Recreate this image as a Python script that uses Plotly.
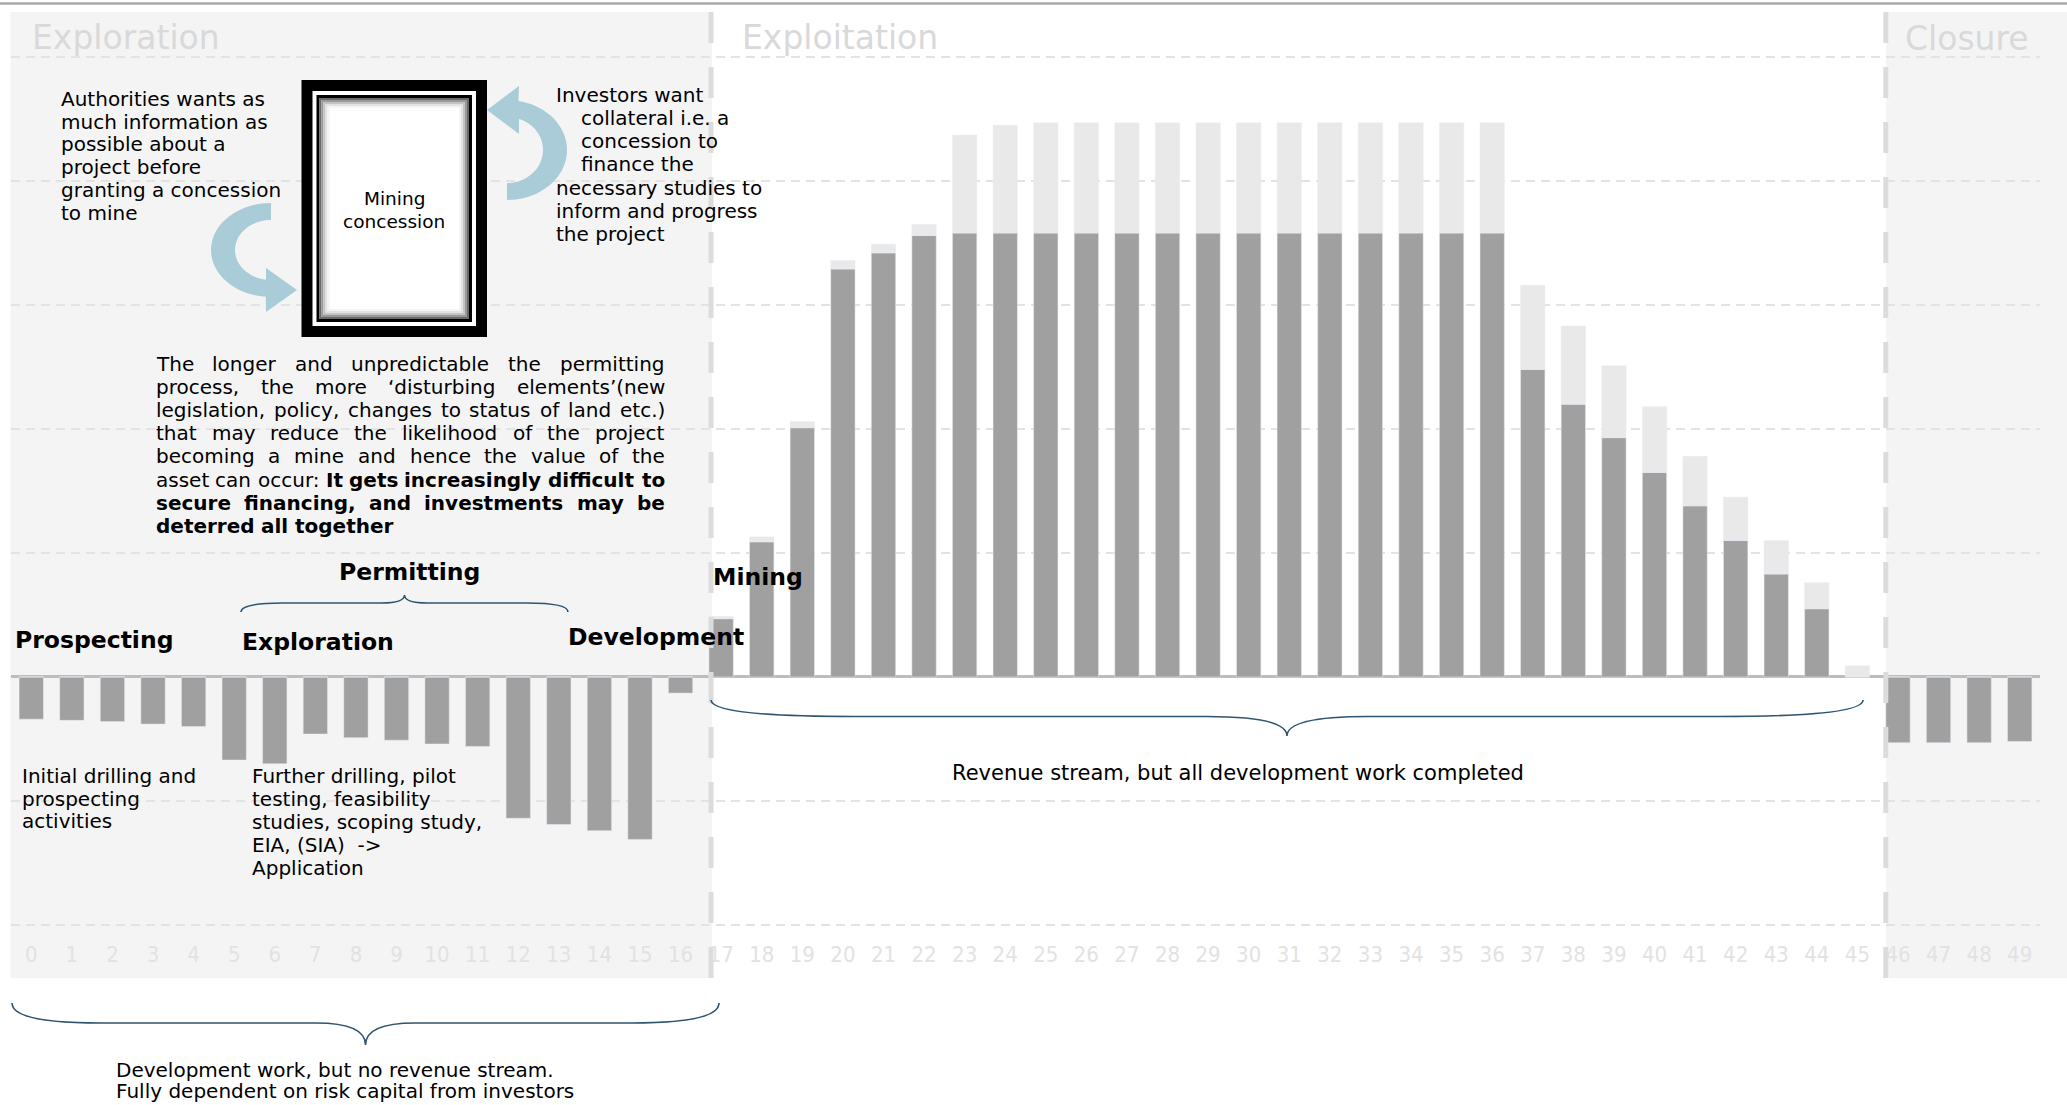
import plotly.graph_objects as go
import numpy as np

W, H = 2067, 1105

# ---------------- data ----------------
years = list(range(50))
tick_labels = [str(y) for y in years]

cash_flow = [-34, -35, -36, -38, -40, -67, -70, -46, -49, -51, -54, -56,
             -114, -119, -124, -131, -13,
             47, 109, 201, 329, 342, 356,
             358, 358, 358, 358, 358, 358, 358, 358, 358, 358, 358, 358, 358, 358,
             248, 220, 193, 165, 138, 110, 83, 55, 0,
             -53, -53, -53, -52]
upside = [0, 0, 0, 0, 0, 0, 0, 0, 0, 0, 0, 0, 0, 0, 0, 0, 0,
          2, 4, 5, 7, 7, 9, 79, 87,
          89, 89, 89, 89, 89, 89, 89, 89, 89, 89, 89, 89,
          68, 63, 58, 53, 40, 35, 27, 21, 9,
          0, 0, 0, 0]

phase_titles = ["Exploration", "Exploitation", "Closure"]
phase_dividers = [16.75, 45.7]

stage_labels = ["Prospecting", "Exploration", "Permitting", "Development", "Mining"]

authorities_lines = ["Authorities wants as", "much information as", "possible about a",
                     "project before", "granting a concession", "to mine"]
investors_lines = ["Investors want", "collateral i.e. a", "concession to", "finance the",
                   "necessary studies to", "inform and progress", "the project"]
concession_lines = ["Mining", "concession"]
paragraph = [
    [("The longer and unpredictable the permitting", False)],
    [("process, the more \u2018disturbing elements\u2019(new", False)],
    [("legislation, policy, changes to status of land etc.)", False)],
    [("that may reduce the likelihood of the project", False)],
    [("becoming a mine and hence the value of the", False)],
    [("asset can occur:", False), ("It gets increasingly difficult to", True)],
    [("secure financing, and investments may be", True)],
    [("deterred all together", True)],
]
initial_lines = ["Initial drilling and", "prospecting", "activities"]
further_lines = ["Further drilling, pilot", "testing, feasibility", "studies, scoping study,",
                 "EIA, (SIA) \u00a0->", "Application"]
revenue_text = "Revenue stream, but all development work completed"
devwork_lines = ["Development work, but no revenue stream.",
                 "Fully dependent on risk capital from investors"]

# ---------------- helpers ----------------
BODY = "DejaVu Sans"
DARK = "#a0a0a0"
LIGHT = "#e9e9e9"


def PX(x):
    return x / W


def PY(y):
    return 1 - y / H


def ann(x, y, text, size=20, color="#000000", xanchor="left", bold=False, family=BODY):
    return dict(x=PX(x), y=PY(y), xref="paper", yref="paper", text=text,
                showarrow=False, xanchor=xanchor, yanchor="middle",
                borderpad=0, borderwidth=0,
                font=dict(family=family, size=size, color=color,
                          weight="bold" if bold else "normal"))


REG = {' ': .318, '!': .401, "'": .275, '(': .390, ')': .390, ',': .318, '-': .361, '.': .318,
       ':': .337, '>': .838, '\u2018': .318, '\u2019': .318,
       'A': .684, 'E': .632, 'I': .295, 'S': .635, 'T': .611, 'F': .575, 'M': .863,
       'a': .613, 'b': .635, 'c': .550, 'd': .635, 'e': .615, 'f': .352, 'g': .635, 'h': .634,
       'i': .278, 'j': .278, 'k': .579, 'l': .278, 'm': .974, 'n': .634, 'o': .612, 'p': .635,
       'q': .635, 'r': .411, 's': .521, 't': .392, 'u': .634, 'v': .592, 'w': .818, 'x': .592,
       'y': .592, 'z': .525}
BLD = {' ': .348, ',': .380, '.': .380, ':': .400, 'I': .372,
       'a': .675, 'b': .716, 'c': .593, 'd': .716, 'e': .678, 'f': .435, 'g': .716, 'h': .712,
       'i': .343, 'k': .665, 'l': .343, 'm': 1.042, 'n': .712, 'o': .687, 'p': .716, 'r': .493,
       's': .595, 't': .478, 'u': .712, 'v': .652, 'w': .924, 'y': .652}


def tw(s, bold, size):
    tab = BLD if bold else REG
    return size * sum(tab.get(c, 0.6) for c in s)


def justified(line, left, right, baseline, size, justify=True):
    words = []
    for chunk, bold in line:
        for w in chunk.split(" "):
            if w:
                words.append((w, bold))
    widths = [tw(w, b, size) for w, b in words]
    n = len(words)
    if justify and n > 1:
        gap = (right - left - sum(widths)) / (n - 1)
    else:
        gap = 0.318 * size
    cy = baseline - 0.346 * size
    out = []
    for i, (w, b) in enumerate(words):
        if justify and i == n - 1 and n > 1:
            out.append(ann(right, cy, w, size, xanchor="right", bold=b))
        else:
            x = left + sum(widths[:i]) + i * gap
            out.append(ann(x, cy, w, size, bold=b))
    return out


def path_px(points, close=True):
    s = "M " + " L ".join(f"{PX(x):.5f},{PY(y):.5f}" for x, y in points)
    return s + (" Z" if close else "")


def ellipse(cx, cy, rx, ry, a0, a1, n=40):
    t = np.radians(np.linspace(a0, a1, n))
    return list(zip(cx + rx * np.cos(t), cy + ry * np.sin(t)))


def brace(x0, x1, y0, ym, yt, end_frac=0.25, tip_frac=0.14):
    xc = (x0 + x1) / 2
    h = (x1 - x0) / 2
    a, b = end_frac * h, tip_frac * h
    p = lambda x, y: f"{PX(x):.5f},{PY(y):.5f}"
    return (f"M {p(x0, y0)} Q {p(x0, ym)} {p(x0 + a, ym)} L {p(xc - b, ym)} "
            f"Q {p(xc, ym)} {p(xc, yt)} Q {p(xc, ym)} {p(xc + b, ym)} "
            f"L {p(x1 - a, ym)} Q {p(x1, ym)} {p(x1, y0)}")


# ---------------- figure ----------------
fig = go.Figure()
fig.add_bar(x=years, y=cash_flow, marker_color=DARK, width=0.6, name="Cash flow")
fig.add_bar(x=years, y=upside, marker_color=LIGHT, width=0.6, name="Upside")

fig.update_layout(
    barmode="relative", width=W, height=H,
    margin=dict(l=0, r=0, t=0, b=0),
    paper_bgcolor="white", plot_bgcolor="rgba(0,0,0,0)",
    showlegend=False, font=dict(family=BODY),
)
fig.update_xaxes(domain=[11 / W, 2040 / W], range=[-0.5, 49.5],
                 tickmode="array", tickvals=years, ticktext=tick_labels,
                 showgrid=False, zeroline=False, showline=False, ticks="",
                 tickfont=dict(family="DejaVu Sans Condensed, DejaVu Sans", size=22, color="#e2e2e2"),
                 ticklabelstandoff=4)
fig.update_yaxes(domain=[1 - 935 / H, 1 - 12 / H], range=[-208.1, 536.3],
                 tick0=0, dtick=100, showticklabels=False,
                 showgrid=True, gridcolor="#e3e3e3", gridwidth=1.5, griddash="9px,6px",
                 zeroline=True, zerolinecolor="#bdbdbd", zerolinewidth=2.5)

shapes = []
# phase shading
shapes.append(dict(type="rect", xref="paper", yref="paper", layer="below",
                   x0=PX(10.5), x1=PX(712), y0=PY(978), y1=PY(12),
                   fillcolor="#f4f4f4", line=dict(width=0)))
shapes.append(dict(type="rect", xref="paper", yref="paper", layer="below",
                   x0=PX(1886), x1=1, y0=PY(978), y1=PY(12),
                   fillcolor="#f4f4f4", line=dict(width=0)))
# top rule
shapes.append(dict(type="line", xref="paper", yref="paper", x0=0, x1=1,
                   y0=PY(3.5), y1=PY(3.5), line=dict(color="#a8a8a8", width=2.5)))
# phase dividers
for xd in phase_dividers:
    shapes.append(dict(type="line", xref="x", yref="paper", x0=xd, x1=xd,
                       y0=PY(12), y1=PY(992), layer="above",
                       line=dict(color="#dcdcdc", width=5, dash="31px,24px")))

# concession frame
def rect(x0, y0, x1, y1, fill=None, line=None, lw=0):
    d = dict(type="rect", xref="paper", yref="paper", layer="above",
             x0=PX(x0), x1=PX(x1), y0=PY(y1), y1=PY(y0))
    d["fillcolor"] = fill if fill else "rgba(0,0,0,0)"
    d["line"] = dict(width=lw, color=line if line else "rgba(0,0,0,0)")
    return d

bx0, by0, bx1, by1 = 301.5, 80, 487, 337
shapes.append(rect(bx0, by0, bx1, by1, fill="#000000"))
shapes.append(rect(bx0 + 11, by0 + 11, bx1 - 11, by1 - 11, fill="#ffffff"))
shapes.append(rect(bx0 + 15, by0 + 15, bx1 - 15, by1 - 15, fill="#000000"))
shapes.append(rect(bx0 + 18, by0 + 18, bx1 - 18, by1 - 18, fill="#ffffff"))
for k, c in enumerate(["#6a6a6a", "#9a9a9a", "#c4c4c4", "#e2e2e2", "#f4f4f4"]):
    ins = 19 + 2 * k
    shapes.append(rect(bx0 + ins, by0 + ins, bx1 - ins, by1 - ins, line=c, lw=2))

# curved arrows
ARROW = "#aacbd8"
right_arrow = (ellipse(507, 150, 60, 50, 90, -79) + [(519, 86), (487, 110), (519, 134)]
               + ellipse(507, 150, 36, 33, -70.5, 90))
left_arrow = (ellipse(271, 250, 60, 47, 270, 95) + [(266, 312), (297, 290), (266, 268)]
              + ellipse(271, 250, 36, 30, 98, 270))
for pts in (right_arrow, left_arrow):
    shapes.append(dict(type="path", xref="paper", yref="paper", layer="above",
                       path=path_px(pts), fillcolor=ARROW, line=dict(width=0)))

# braces
BRACE = "#2f5470"
for (x0, x1, y0, ym, yt) in [(241, 568, 612, 603, 595),
                             (711, 1863, 700, 716.5, 736),
                             (12, 719, 1003, 1023, 1045)]:
    shapes.append(dict(type="path", xref="paper", yref="paper", layer="above",
                       path=brace(x0, x1, y0, ym, yt), line=dict(color=BRACE, width=1.6)))

fig.update_layout(shapes=shapes)

# ---------------- annotations ----------------
A = []
TITLE_C = "#d9d9d9"
for t, x, b in zip(phase_titles, [31.5, 742, 1905], [49, 49, 50]):
    A.append(ann(x, b - 0.346 * 33, t, size=33, color=TITLE_C))

for k, s in enumerate(authorities_lines):
    A.append(ann(60.6, 106 + 22.7 * k - 6.9, s, 20))
for k, s in enumerate(investors_lines):
    x = 580.7 if k in (1, 2, 3) else 556
    A.append(ann(x, 101.7 + 23.2 * k - 6.9, s, 20))
for k, s in enumerate(concession_lines):
    A.append(ann(394, 205 + 23 * k - 6.4, s, 18.5, xanchor="center"))

for k, line in enumerate(paragraph):
    A.extend(justified(line, 156, 665, 370.7 + 23.15 * k, 20, justify=(k < len(paragraph) - 1)))

stage_pos = {"Prospecting": (14.5, 648), "Exploration": (242, 650), "Permitting": (339, 580),
             "Development": (568, 645), "Mining": (713, 585)}
for s in stage_labels:
    x, b = stage_pos[s]
    A.append(ann(x, b - 0.346 * 23.5, s, 23.5, bold=True))

for k, s in enumerate(initial_lines):
    A.append(ann(22, 776 + 22.6 * k, s, 20))
for k, s in enumerate(further_lines):
    A.append(ann(252, 776 + 23 * k, s, 20))
A.append(ann(1238, 772.5, revenue_text, 21, xanchor="center"))
for k, s in enumerate(devwork_lines):
    A.append(ann(116, 1070 + 21 * k, s, 20))

fig.update_layout(annotations=A)

fig.write_html("out.html")
